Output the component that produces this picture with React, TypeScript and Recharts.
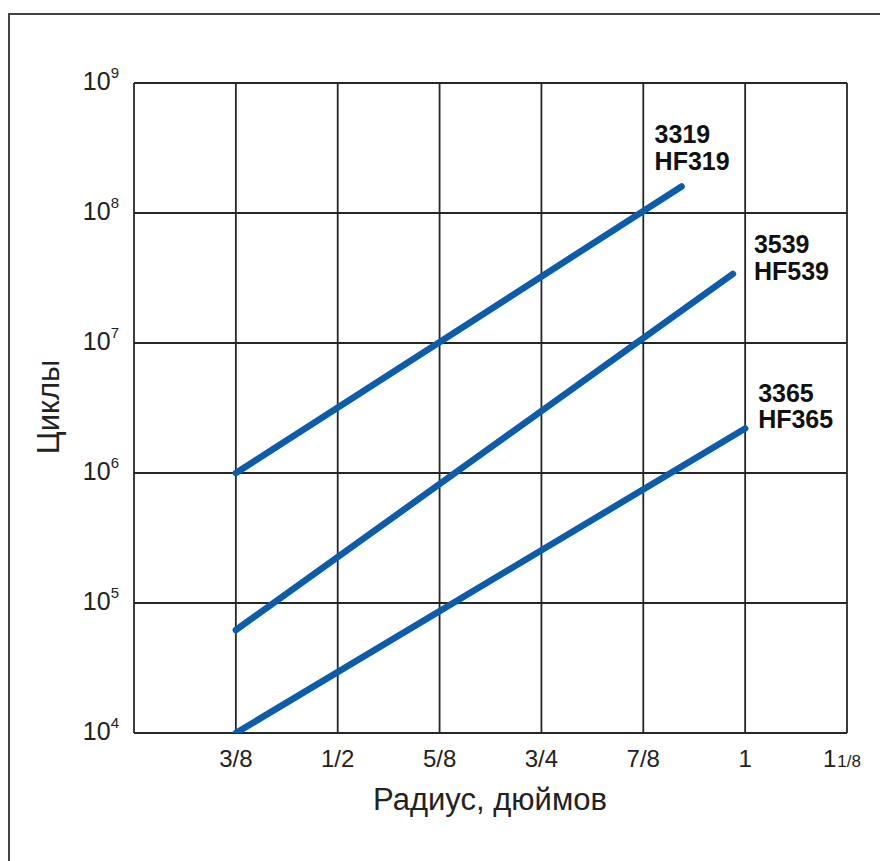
import React from "react";
import {
  CartesianGrid,
  LabelList,
  Line,
  LineChart,
  XAxis,
  YAxis,
} from "recharts";

// радиус в дюймах и число циклов для каждой пружины
const radius3319 = [0.375, 0.922];
const cycles3319 = [1e6, 1.6e8];
const radius3539 = [0.375, 0.985];
const cycles3539 = [6.2e4, 3.4e7];
const radius3365 = [0.375, 1.0];
const cycles3365 = [1e4, 2.2e6];

const xTicks = [0.25, 0.375, 0.5, 0.625, 0.75, 0.875, 1, 1.125];
const xTickLabels = ["", "3/8", "1/2", "5/8", "3/4", "7/8", "1", "1 1/8"];
const yTicks = [1e4, 1e5, 1e6, 1e7, 1e8, 1e9];

const toPoints = (xs: number[], ys: number[]) =>
  xs.map((x, i) => ({ x, y: ys[i] }));

const series = [
  { name: ["3319", "HF319"], data: toPoints(radius3319, cycles3319), dx: -27, dy: [-43, -16] },
  { name: ["3539", "HF539"], data: toPoints(radius3539, cycles3539), dx: 21, dy: [-21, 6] },
  { name: ["3365", "HF365"], data: toPoints(radius3365, cycles3365), dx: 13, dy: [-26, 0] },
];

const FONT = "'Liberation Sans', Arial, Helvetica, sans-serif";
const BLUE = "#0b5cad";
const GRID = "#262626";

function XTick(props: any) {
  const { x, y, payload } = props;
  const idx = xTicks.indexOf(payload.value);
  const label = xTickLabels[idx] ?? "";
  if (!label) return null;
  if (label === "1 1/8") {
    return (
      <text x={x - 5} y={y + 34} textAnchor="middle" fontFamily={FONT} fontSize={24} fill="#222">
        <tspan>1</tspan>
        <tspan fontSize={17} dx={1}>1/8</tspan>
      </text>
    );
  }
  return (
    <text x={x} y={y + 34} textAnchor="middle" fontFamily={FONT} fontSize={24} fill="#222">
      {label}
    </text>
  );
}

function YTick(props: any) {
  const { x, y, payload } = props;
  const exp = Math.round(Math.log10(payload.value));
  return (
    <text x={x - 15} y={y + 7} textAnchor="end" fontFamily={FONT} fontSize={25} fill="#222">
      <tspan>10</tspan>
      <tspan fontSize={15} dy={-12}>{exp}</tspan>
    </text>
  );
}

function makeLabel(s: (typeof series)[number]) {
  return (props: any) => {
    const { x, y, index } = props;
    if (index !== s.data.length - 1) return null;
    return (
      <text fontFamily={FONT} fontSize={25} fontWeight="bold" fill="#111">
        <tspan x={x + s.dx} y={y + s.dy[0]}>{s.name[0]}</tspan>
        <tspan x={x + s.dx} y={y + s.dy[1]}>{s.name[1]}</tspan>
      </text>
    );
  };
}

export default function App() {
  return (
    <div
      style={{
        position: "absolute",
        left: 0,
        top: 0,
        width: 880,
        height: 861,
        overflow: "hidden",
        background: "#fff",
      }}
    >
      <div
        style={{
          position: "absolute",
          left: 8,
          top: 13,
          width: 920,
          height: 920,
          border: "2px solid #444",
        }}
      />
      <div style={{ position: "absolute", left: 0, top: 0 }}>
        <LineChart
          width={880}
          height={861}
          margin={{ top: 83, right: 33, left: 0, bottom: 0 }}
        >
          <CartesianGrid stroke={GRID} strokeWidth={1.8} />
          <XAxis
            type="number"
            dataKey="x"
            domain={[0.25, 1.125]}
            ticks={xTicks}
            height={128}
            axisLine={false}
            tickLine={false}
            tickSize={0}
            tickMargin={0}
            tick={<XTick />}
            interval={0}
            allowDuplicatedCategory={false}
          />
          <YAxis
            type="number"
            scale="log"
            domain={[1e4, 1e9]}
            ticks={yTicks}
            width={134}
            axisLine={false}
            tickLine={false}
            tickSize={0}
            tickMargin={0}
            tick={<YTick />}
            interval={0}
            allowDataOverflow
          />
          {series.map((s) => (
            <Line
              key={s.name[0]}
              data={s.data}
              dataKey="y"
              type="linear"
              stroke={BLUE}
              strokeWidth={6.5}
              strokeLinecap="round"
              dot={false}
              activeDot={false}
              isAnimationActive={false}
            >
              <LabelList dataKey="y" content={makeLabel(s)} />
            </Line>
          ))}
        </LineChart>
      </div>
      <div
        style={{
          position: "absolute",
          left: 0,
          top: 782,
          width: 980,
          textAlign: "center",
          fontFamily: FONT,
          fontSize: 31,
          color: "#222",
        }}
      >
        Радиус, дюймов
      </div>
      <div
        style={{
          position: "absolute",
          left: 49,
          top: 407,
          transform: "translate(-50%, -50%) rotate(-90deg)",
          fontFamily: FONT,
          fontSize: 31,
          color: "#222",
          whiteSpace: "nowrap",
        }}
      >
        Циклы
      </div>
    </div>
  );
}
